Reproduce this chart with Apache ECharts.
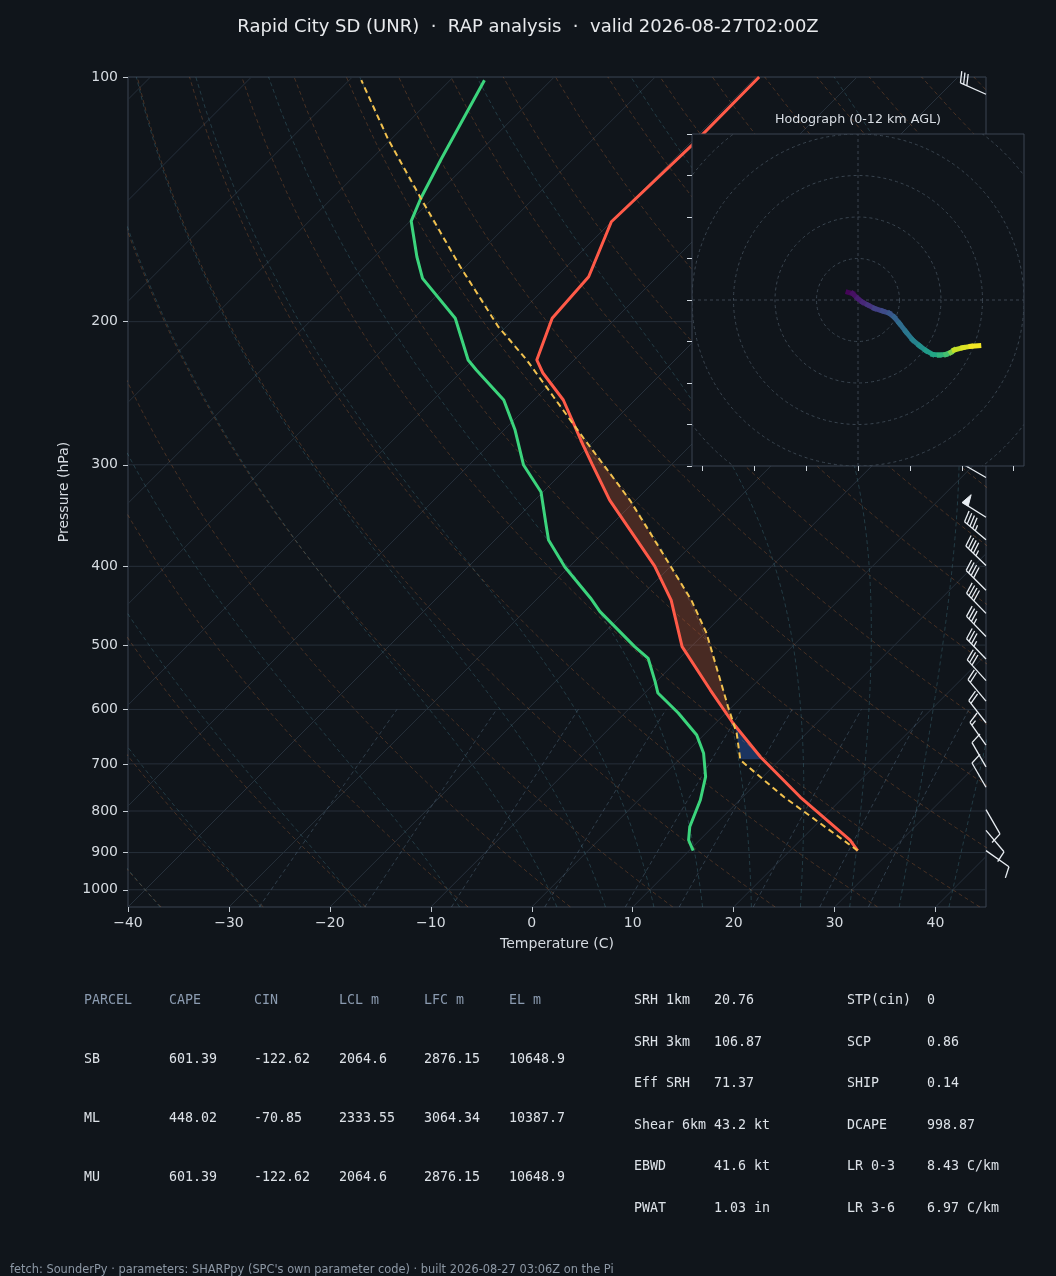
<!DOCTYPE html>
<html>
<head>
<meta charset="utf-8">
<title>Skew-T Rapid City</title>
<script src="https://cdn.jsdelivr.net/npm/echarts@6.0.0/dist/echarts.min.js"></script>
<style>
  html, body { margin: 0; padding: 0; background: #10151b; }
  #chart { width: 1056px; height: 1276px; }
</style>
</head>
<body>
<div id="chart"></div>
<script>
// ---- sounding (pressure hPa, temperature C) ----
var tempP = [894.9, 868.5, 768.9, 686.5, 623.5, 567.9, 502.2, 440.1, 399.7, 360.9, 331.5, 299.4, 283.6, 249.7, 231.3, 222.9, 198.1, 176.1, 150.7, 121.2, 100];
var tempT = [26.7, 24.9, 15.7, 7.8, 1.7, -3.8, -10.9, -16.6, -21.6, -27.6, -32.6, -37.9, -40.7, -47.1, -51.8, -53.7, -56.3, -56.8, -60.0, -59.6, -59.7];

var dewP = [894.9, 868.5, 836.4, 775.4, 725.6, 679.4, 645.0, 606.1, 572.7, 554.6, 519.1, 502.2, 454.8, 437.5, 400.8, 371.2, 356.0, 324.0, 300.2, 271.9, 249.7, 229.3, 222.9, 198.1, 176.9, 166.4, 150.4, 141.0, 125.9, 100.9];
var dewT = [10.4, 8.9, 7.7, 6.1, 4.3, 1.8, -0.7, -4.7, -8.7, -10.1, -13.1, -15.6, -22.5, -24.8, -30.4, -34.7, -36.4, -40.2, -44.6, -48.9, -53.0, -58.7, -60.5, -65.9, -73.1, -75.8, -79.9, -81.2, -83.1, -86.6];

var parcelP = [894.9, 769.0, 692.4, 642.0, 595.3, 483.5, 440.1, 371.2, 331.5, 274.2, 247.4, 222.9, 202.9, 171.2, 141.0, 119.5, 100.9];
var parcelT = [26.7, 14.1, 6.1, 3.1, -0.4, -9.8, -14.6, -24.2, -30.6, -42.2, -48.4, -54.7, -60.8, -70.5, -81.2, -90.2, -98.8];

var lclP = 691, lfcP = 621, elP = 274;

// wind barbs: pressure, speed kt, direction deg
var barbP = [105, 311, 348, 371, 399, 428, 457, 488, 520, 553, 586, 623, 664, 706, 748, 797, 845, 895];
var barbSpd = [30, 50, 50, 45, 45, 40, 40, 35, 35, 30, 20, 20, 15, 10, 10, 10, 10, 10];
var barbDir = [294, 300, 302, 310, 314, 315, 316, 316, 316, 318, 320, 322, 325, 330, 330, 150, 140, 125];

// hodograph u, v (kt) and height (km AGL)
var hodoU = [-4.8, -2.6, -0.2, 2.2, 4.7, 7.9, 11.9, 15.1, 17.5, 19.9, 23.1, 26.4, 29.6, 32.8, 36.0, 39.2, 42.4, 44.8, 46.4, 50.5, 54.5, 58.2];
var hodoV = [3.7, 3.1, 0.8, -1.1, -2.4, -4.0, -5.3, -6.4, -8.3, -11.2, -15.3, -19.3, -22.0, -24.4, -26.2, -26.5, -26.2, -25.2, -24.1, -23.0, -22.3, -22.0];
var hodoH = [0, 0.3, 0.8, 1.2, 1.5, 2.0, 2.5, 3.0, 3.5, 4.0, 4.5, 5.0, 5.6, 6.2, 6.8, 7.4, 8.0, 8.8, 10.8, 11.2, 11.6, 12.0];
var hodoRings = [20, 40, 60, 80, 100];

// axis ticks
var tempTicks = [-40, -30, -20, -10, 0, 10, 20, 30, 40];
var presTicks = [100, 200, 300, 400, 500, 600, 700, 800, 900, 1000];
var hodoXTicks = [-75, -50, -25, 0, 25, 50, 75];
var hodoYTicks = [-80, -60, -40, -20, 0, 20, 40, 60, 80];

// parameter tables
var parcelHead = ['PARCEL', 'CAPE', 'CIN', 'LCL m', 'LFC m', 'EL m'];
var parcelRows = [
  ['SB', '601.39', '-122.62', '2064.6', '2876.15', '10648.9'],
  ['ML', '448.02', '-70.85', '2333.55', '3064.34', '10387.7'],
  ['MU', '601.39', '-122.62', '2064.6', '2876.15', '10648.9']
];
var kinLabels = ['SRH 1km', 'SRH 3km', 'Eff SRH', 'Shear 6km', 'EBWD', 'PWAT'];
var kinValues = ['20.76', '106.87', '71.37', '43.2 kt', '41.6 kt', '1.03 in'];
var thermLabels = ['STP(cin)', 'SCP', 'SHIP', 'DCAPE', 'LR 0-3', 'LR 3-6'];
var thermValues = ['0', '0.86', '0.14', '998.87', '8.43 C/km', '6.97 C/km'];

var titleText = 'Rapid City SD (UNR)  \u00b7  RAP analysis  \u00b7  valid 2026-08-27T02:00Z';
var footText = 'fetch: SounderPy \u00b7 parameters: SHARPpy (SPC\'s own parameter code) \u00b7 built 2026-08-27 03:06Z on the Pi';

// ---- skew-T helpers ----
var P_BOT = 1050, P_TOP = 100;
var SKEW = 80.52; // C per decade of pressure -> 45 degree isotherms on this grid
function sx(t, p) { return t + SKEW * Math.log10(P_BOT / p); }

function interpT(P, T, p) {
  for (var i = 0; i < P.length - 1; i++) {
    if (p <= P[i] && p >= P[i + 1]) {
      var f = Math.log(P[i] / p) / Math.log(P[i] / P[i + 1]);
      return T[i] + f * (T[i + 1] - T[i]);
    }
  }
  return p > P[0] ? T[0] : T[T.length - 1];
}

function profile(P, T) {
  return P.map(function (p, i) { return [sx(T[i], p), p]; });
}

// polygon between two profiles from pLow up to pHigh
function shade(pLow, pHigh, lP, lT, rP, rT) {
  var ps = [], n = 60, i;
  for (i = 0; i <= n; i++) ps.push(pLow * Math.pow(pHigh / pLow, i / n));
  lP.concat(rP).forEach(function (p) { if (p < pLow && p > pHigh) ps.push(p); });
  ps.sort(function (a, b) { return b - a; });
  var a = [], b = [];
  ps.forEach(function (p) {
    a.push([sx(interpT(lP, lT, p), p), p]);
    b.push([sx(interpT(rP, rT, p), p), p]);
  });
  return a.concat(b.reverse());
}
var capePoly = shade(lfcP, elP, tempP, tempT, parcelP, parcelT);
var cinPoly = shade(lclP, lfcP, parcelP, parcelT, tempP, tempT);

// ---- background lines (isotherms, adiabats, mixing ratio) ----
function isotherm(t) { return [[sx(t, P_BOT), P_BOT], [sx(t, P_TOP), P_TOP]]; }
function dryAdiabat(t0) {
  var out = [];
  for (var p = P_BOT; p >= P_TOP; p -= 10) {
    var t = (t0 + 273.15) * Math.pow(p / 1000, 0.2857) - 273.15;
    out.push([sx(t, p), p]);
  }
  return out;
}
function moistRate(p, T) {
  var tc = T - 273.15;
  var es = 6.112 * Math.exp(17.67 * tc / (tc + 243.5));
  var rs = 0.622 * es / (p - es);
  return (287.04 * T + 2.501e6 * rs) / (1005.7 + 2.501e6 * 2.501e6 * rs * 0.622 / (287.04 * T * T)) / p;
}
function moistStep(p, T, dp) {
  var k1 = moistRate(p, T), k2 = moistRate(p + dp / 2, T + k1 * dp / 2);
  var k3 = moistRate(p + dp / 2, T + k2 * dp / 2), k4 = moistRate(p + dp, T + k3 * dp);
  return T + dp * (k1 + 2 * k2 + 2 * k3 + k4) / 6;
}
function moistAdiabat(t0) {
  var up = [], down = [], T = t0 + 273.15, p;
  for (p = 1000; p > P_TOP; p -= 10) { up.push([p, T]); T = moistStep(p, T, -10); }
  up.push([P_TOP, T]);
  T = t0 + 273.15;
  for (p = 1000; p < P_BOT; p += 10) { T = moistStep(p, T, 10); down.push([p + 10, T]); }
  return down.reverse().concat(up).map(function (q) { return [sx(q[1] - 273.15, q[0]), q[0]]; });
}
function mixingLine(w) {
  var out = [];
  for (var p = P_BOT; p >= 600; p -= 10) {
    var e = w * p / (0.622 + w), l = Math.log(e / 6.112);
    out.push([sx(243.5 * l / (17.67 - l), p), p]);
  }
  return out;
}

var series = [];
function bgLine(data, color, dash, z) {
  series.push({
    type: 'line', data: data, symbol: 'none', silent: true, clip: true, z: z || 1,
    lineStyle: { color: color, width: 1, type: dash || 'solid' }
  });
}
presTicks.forEach(function (p) { bgLine([[-40, p], [45, p]], '#262f3a'); });
for (var t = -130; t <= 40; t += 10) bgLine(isotherm(t), '#26303b');
for (var d = -40; d <= 180; d += 10) bgLine(dryAdiabat(d), 'rgba(216,122,60,0.28)', [4, 3]);
[-40, -30, -20, -10, 0, 5, 10, 15, 20, 25, 30, 35, 40, 45].forEach(function (m) {
  bgLine(moistAdiabat(m), 'rgba(80,150,165,0.30)', [4, 3]);
});
[0.0004, 0.001, 0.002, 0.004, 0.007, 0.01, 0.016, 0.024, 0.032].forEach(function (w) {
  bgLine(mixingLine(w), 'rgba(110,140,165,0.35)', [4, 3]);
});

function polySeries(poly, fill) {
  return {
    type: 'custom', data: [[0, 500]], silent: true, z: 2,
    renderItem: function (params, api) {
      return { type: 'polygon', shape: { points: poly.map(function (q) { return api.coord(q); }) }, style: { fill: fill } };
    }
  };
}
series.push(polySeries(capePoly, 'rgba(225,100,60,0.27)'));
series.push(polySeries(cinPoly, 'rgba(45,100,200,0.40)'));

series.push({ type: 'line', name: 'Td', data: profile(dewP, dewT), symbol: 'none', silent: true, z: 3,
  lineStyle: { color: '#3bd47c', width: 3 } });
series.push({ type: 'line', name: 'T', data: profile(tempP, tempT), symbol: 'none', silent: true, z: 3,
  lineStyle: { color: '#ff5a48', width: 3 } });
series.push({ type: 'line', name: 'parcel', data: profile(parcelP, parcelT), symbol: 'none', silent: true, z: 4,
  lineStyle: { color: '#f2c14e', width: 2, type: [6, 4] } });

// wind barbs along the right edge
var BARB_COLOR = '#e9eef3';
function renderBarb(params, api) {
  var base = api.coord([api.value(0), api.value(1)]);
  var spd = api.value(2), dir = api.value(3) * Math.PI / 180;
  var L = 28, fh = 0.4 * L, fw = 0.25 * L, sp = 0.125 * L;
  var dx = Math.sin(dir), dy = -Math.cos(dir), px = -dy, py = dx;
  function at(s, h) { return [base[0] + dx * s + px * h, base[1] + dy * s + py * h]; }
  var st = { stroke: BARB_COLOR, lineWidth: 1.3, fill: null };
  var tip = at(L, 0);
  var kids = [{ type: 'line', shape: { x1: base[0], y1: base[1], x2: tip[0], y2: tip[1] }, style: st }];
  var r = Math.round(spd / 5) * 5;
  var nf = Math.floor(r / 50); r -= nf * 50;
  var nb = Math.floor(r / 10); r -= nb * 10;
  var off = L, i, a, b;
  for (i = 0; i < nf; i++) {
    if (off !== L) off += sp / 2;
    kids.push({ type: 'polygon', shape: { points: [at(off, 0), at(off - fw / 2, fh), at(off - fw, 0)] },
      style: { fill: BARB_COLOR, stroke: BARB_COLOR, lineWidth: 1 } });
    off -= fw + sp;
  }
  for (i = 0; i < nb; i++) {
    a = at(off, 0); b = at(off + fw / 2, fh);
    kids.push({ type: 'line', shape: { x1: a[0], y1: a[1], x2: b[0], y2: b[1] }, style: st });
    off -= sp;
  }
  if (r >= 5) {
    if (off === L) off -= 1.5 * sp;
    a = at(off, 0); b = at(off + fw / 4, fh / 2);
    kids.push({ type: 'line', shape: { x1: a[0], y1: a[1], x2: b[0], y2: b[1] }, style: st });
  }
  return { type: 'group', children: kids };
}
series.push({
  type: 'custom', silent: true, z: 5, clip: false,
  data: barbP.map(function (p, i) { return [45, p, barbSpd[i], barbDir[i]]; }),
  renderItem: renderBarb
});

// ---- hodograph inset ----
var VIRIDIS = ['#440154', '#482475', '#414487', '#355f8d', '#2a788e', '#21918c', '#22a884', '#44bf70', '#7ad151', '#bddf26', '#fde725'];
function hex(c) { return [parseInt(c.substr(1, 2), 16), parseInt(c.substr(3, 2), 16), parseInt(c.substr(5, 2), 16)]; }
function viridis(f) {
  f = Math.max(0, Math.min(1, f)) * 10;
  var i = Math.min(9, Math.floor(f)), u = f - i, a = hex(VIRIDIS[i]), b = hex(VIRIDIS[i + 1]);
  return 'rgb(' + [0, 1, 2].map(function (k) { return Math.round(a[k] + (b[k] - a[k]) * u); }).join(',') + ')';
}
series.push({
  type: 'custom', xAxisIndex: 1, yAxisIndex: 1, zlevel: 1, z: 2, silent: true, clip: true,
  data: hodoRings.map(function (r) { return [0, 0, r]; }),
  renderItem: function (params, api) {
    var c = api.coord([0, 0]), r = api.size([api.value(2), 0])[0];
    return { type: 'circle', shape: { cx: c[0], cy: c[1], r: r },
      style: { fill: null, stroke: '#3a4550', lineWidth: 1, lineDash: [3, 3] } };
  }
});
[[[-80, 0], [80, 0]], [[0, -80], [0, 80]]].forEach(function (seg) {
  series.push({ type: 'line', xAxisIndex: 1, yAxisIndex: 1, zlevel: 1, z: 2, data: seg, symbol: 'none', silent: true,
    lineStyle: { color: '#3a4550', width: 1, type: [3, 3] } });
});
series.push({
  type: 'custom', xAxisIndex: 1, yAxisIndex: 1, zlevel: 1, z: 3, silent: true, clip: true,
  data: hodoU.map(function (u, i) { return [u, hodoV[i], hodoH[i]]; }),
  renderItem: function (params, api) {
    var i = params.dataIndex;
    if (i === 0) return null;
    var a = api.coord([hodoU[i - 1], hodoV[i - 1]]), b = api.coord([hodoU[i], hodoV[i]]);
    return { type: 'line', shape: { x1: a[0], y1: a[1], x2: b[0], y2: b[1] },
      style: { stroke: viridis((hodoH[i - 1] + hodoH[i]) / 24), lineWidth: 5, lineCap: 'square' } };
  }
});

// ---- text ----
var graphics = [];
function txt(x, y, s, color, font, align) {
  graphics.push({ type: 'text', x: x, y: y, silent: true, zlevel: 1,
    style: { text: s, fill: color, font: font, textAlign: align || 'left', align: align || 'left',
      textVerticalAlign: 'middle', verticalAlign: 'middle' } });
}
var MONO = '13.3px "DejaVu Sans Mono", monospace';
txt(528, 27, titleText, '#e8eaed', '18px "DejaVu Sans", sans-serif', 'center');
txt(858, 120, 'Hodograph (0-12 km AGL)', '#d8dde3', '12.7px "DejaVu Sans", sans-serif', 'center');
var colX = [84, 169, 254, 339, 424, 509];
parcelHead.forEach(function (h, j) { txt(colX[j], 1001, h, '#8b9bb0', MONO); });
parcelRows.forEach(function (row, i) {
  row.forEach(function (v, j) { txt(colX[j], 1060 + i * 59, v, '#dde2e8', MONO); });
});
var rowY = [1001, 1043, 1084, 1126, 1167, 1209];
kinLabels.forEach(function (l, i) { txt(634, rowY[i], l, '#dde2e8', MONO); txt(714, rowY[i], kinValues[i], '#dde2e8', MONO); });
thermLabels.forEach(function (l, i) { txt(847, rowY[i], l, '#dde2e8', MONO); txt(927, rowY[i], thermValues[i], '#dde2e8', MONO); });
txt(10, 1270, footText, '#8d98a5', '11.4px "DejaVu Sans", sans-serif');

// ---- chart ----
var chart = echarts.init(document.getElementById('chart'), null, { renderer: 'canvas' });
var axisText = { color: '#d6dbe1', fontSize: 14, fontFamily: 'DejaVu Sans' };
chart.setOption({
  backgroundColor: '#10151b',
  animation: false,
  textStyle: { fontFamily: 'DejaVu Sans' },
  grid: [
    { left: 128, top: 77, width: 858, height: 830, show: true, borderColor: '#3b4553', borderWidth: 1, backgroundColor: 'transparent' },
    { left: 692, top: 134, width: 332, height: 332, show: true, borderColor: '#3b4553', borderWidth: 1, backgroundColor: '#10151b', zlevel: 1 }
  ],
  xAxis: [
    {
      type: 'value', gridIndex: 0, min: -40, max: 45, position: 'bottom',
      name: 'Temperature (C)', nameLocation: 'middle', nameGap: 30,
      nameTextStyle: { color: '#d6dbe1', fontSize: 14, fontFamily: 'DejaVu Sans' },
      axisLine: { show: false, onZero: false },
      axisTick: { show: true, customValues: tempTicks, length: 5, lineStyle: { color: '#c5ccd3' } },
      axisLabel: Object.assign({ customValues: tempTicks, margin: 9,
        formatter: function (v) { return (v < 0 ? '\u2212' : '') + Math.abs(v); } }, axisText),
      splitLine: { show: false }
    },
    {
      type: 'value', gridIndex: 1, min: -80, max: 80, zlevel: 1, position: 'bottom',
      axisLine: { show: false, onZero: false },
      axisTick: { show: true, customValues: hodoXTicks, length: 5, lineStyle: { color: '#cfd6dd' } },
      axisLabel: { show: false, customValues: hodoXTicks },
      splitLine: { show: false }
    }
  ],
  yAxis: [
    {
      type: 'log', logBase: 10, gridIndex: 0, min: P_TOP, max: P_BOT, inverse: true, position: 'left',
      name: 'Pressure (hPa)', nameLocation: 'middle', nameGap: 55,
      nameTextStyle: { color: '#d6dbe1', fontSize: 14, fontFamily: 'DejaVu Sans' },
      axisLine: { show: false, onZero: false },
      axisTick: { show: true, customValues: presTicks, length: 5, lineStyle: { color: '#c5ccd3' } },
      axisLabel: Object.assign({ customValues: presTicks, margin: 10,
        formatter: function (v) { return String(Math.round(v)); } }, axisText),
      splitLine: { show: false }
    },
    {
      type: 'value', gridIndex: 1, min: -80, max: 80, zlevel: 1, position: 'left',
      axisLine: { show: false, onZero: false },
      axisTick: { show: true, customValues: hodoYTicks, length: 5, lineStyle: { color: '#cfd6dd' } },
      axisLabel: { show: false, customValues: hodoYTicks },
      splitLine: { show: false }
    }
  ],
  graphic: { elements: graphics },
  series: series
});
</script>
</body>
</html>
